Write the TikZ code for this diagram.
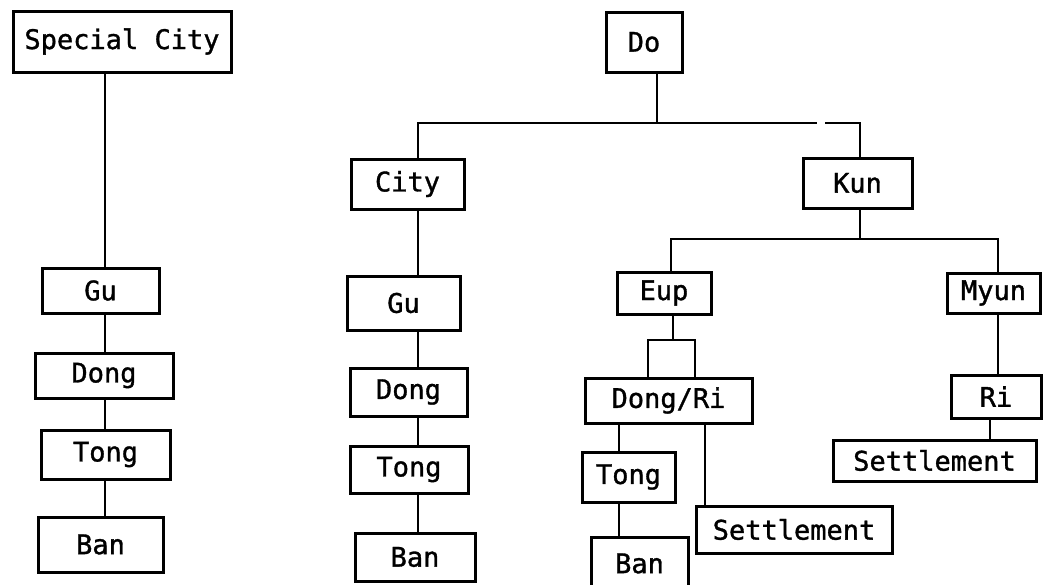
\documentclass[tikz,border=0pt]{standalone}
\usepackage{fontspec}
\newfontfamily\plotfont[FakeBold=1.2]{DejaVu Sans Mono}
\newcommand\bx[6]{\node[box, minimum width={(#3-#2)*1pt}, minimum height={(#5-#4)*1pt}] (#1) at ({(#2+#3)/2},{(#4+#5)/2}) {#6};}
\begin{document}
\begin{tikzpicture}[x=1pt,y=-1pt,
  box/.style={draw, line width=3pt, inner sep=0pt, font=\plotfont\fontsize{27}{30}\selectfont},
  conn/.style={line width=2.8pt}]
\path[use as bounding box] (0,0) rectangle (1043,584);
% left column
\bx{sc}{13}{231}{11}{72}{Special City}
\bx{lgu}{42}{159}{268}{313}{Gu}
\bx{ldong}{35}{173}{353}{398}{Dong}
\bx{ltong}{41}{170}{430}{479}{Tong}
\bx{lban}{38}{163}{517}{572}{Ban}
% middle column
\bx{do}{606}{682}{12}{72}{Do}
\bx{city}{351}{464}{159}{209}{City}
\bx{mgu}{347}{460}{276}{330}{Gu}
\bx{mdong}{350}{467}{368}{416}{Dong}
\bx{mtong}{350}{468}{446}{493}{Tong}
\bx{mban}{355}{475}{533}{581}{Ban}
% right part
\bx{kun}{803}{912}{158}{208}{Kun}
\bx{eup}{617}{711}{272}{314}{Eup}
\bx{dongri}{585}{752}{378}{423}{Dong/Ri}
\bx{tongb}{582}{675}{452}{502}{Tong}
\bx{banb}{591}{688}{537}{590}{Ban}
\bx{settleA}{696}{892}{506}{553}{Settlement}
\bx{myun}{947}{1040}{273}{313}{Myun}
\bx{ri}{951}{1041}{375}{418}{Ri}
\bx{settleB}{833}{1036}{440}{481}{Settlement}
% junction coordinates
\coordinate (lx) at (105,0);
\coordinate (mx) at (418,0);
\coordinate (barL) at (418,123);
\coordinate (doj) at (657,123);
\coordinate (gapL) at (817,123);
\coordinate (gapR) at (825,123);
\coordinate (barR) at (860,123);
\coordinate (kj) at (860,239);
\coordinate (eupj) at (671,239);
\coordinate (myunj) at (998,239);
\coordinate (brT) at (673,340);
\coordinate (brL) at (648,340);
\coordinate (brR) at (695,340);
\coordinate (tx) at (619,0);
\coordinate (sx) at (705,0);
\coordinate (rx) at (990,0);
% left connectors
\draw[conn] (sc.south -| lx) -- (lgu.north -| lx);
\draw[conn] (lgu.south -| lx) -- (ldong.north -| lx);
\draw[conn] (ldong.south -| lx) -- (ltong.north -| lx);
\draw[conn] (ltong.south -| lx) -- (lban.north -| lx);
% middle connectors
\draw[conn] (do.south -| doj) -- (doj);
\draw[conn] (city.north -| barL) -- (barL) -- (gapL);
\draw[conn] (gapR) -- (barR) -- (kun.north -| barR);
\draw[conn] (city.south -| mx) -- (mgu.north -| mx);
\draw[conn] (mgu.south -| mx) -- (mdong.north -| mx);
\draw[conn] (mdong.south -| mx) -- (mtong.north -| mx);
\draw[conn] (mtong.south -| mx) -- (mban.north -| mx);
% right connectors
\draw[conn] (kun.south -| kj) -- (kj);
\draw[conn] (eup.north -| eupj) -- (eupj) -- (myunj) -- (myun.north -| myunj);
\draw[conn] (eup.south -| brT) -- (brT);
\draw[conn] (dongri.north -| brL) -- (brL) -- (brR) -- (dongri.north -| brR);
\draw[conn] (dongri.south -| tx) -- (tongb.north -| tx);
\draw[conn] (tongb.south -| tx) -- (banb.north -| tx);
\draw[conn] (dongri.south -| sx) -- (settleA.north -| sx);
\draw[conn] (myun.south -| myunj) -- (ri.north -| myunj);
\draw[conn] (ri.south -| rx) -- (settleB.north -| rx);
\end{tikzpicture}
\end{document}
